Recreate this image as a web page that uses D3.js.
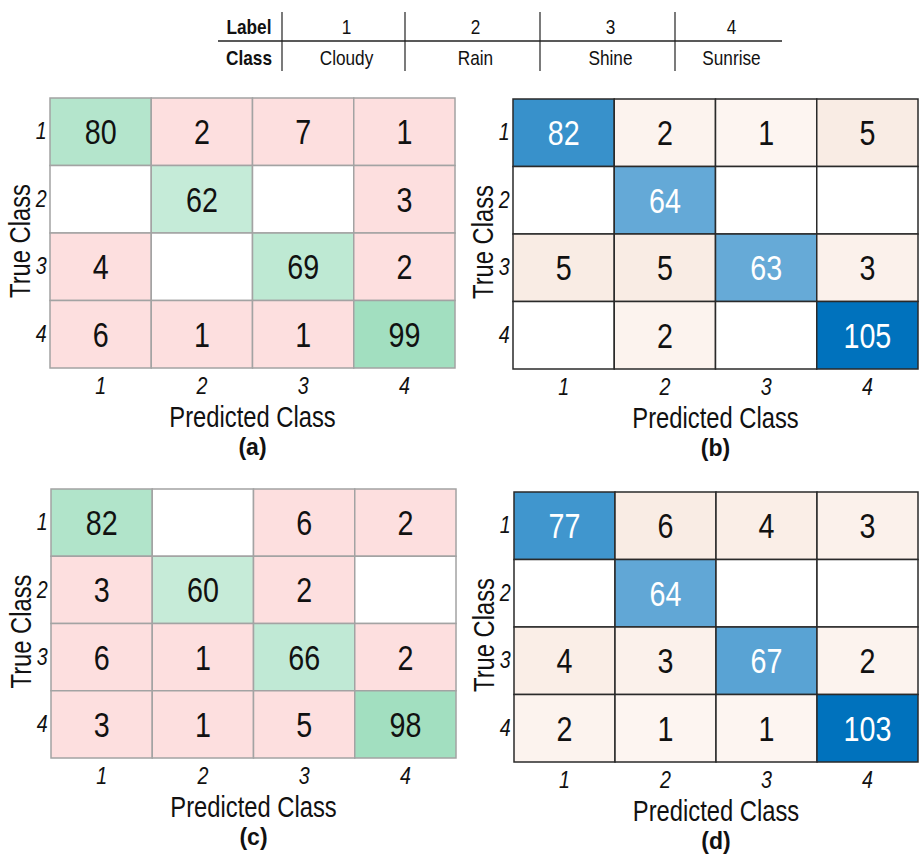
<!DOCTYPE html>
<html>
<head>
<meta charset="utf-8">
<script src="https://cdn.jsdelivr.net/npm/d3@7"></script>
<style>
  html, body { margin: 0; padding: 0; background: #fff; }
  svg { display: block; }
  text { font-family: "Liberation Sans", Arial, sans-serif; }
</style>
</head>
<body>
<svg id="chart" width="919" height="858"></svg>
<script>
// Class legend
const classLabels = ["1", "2", "3", "4"];
const classNames = ["Cloudy", "Rain", "Shine", "Sunrise"];

// Confusion matrices (rows = true class, columns = predicted class; 0 = empty cell)
const matrixA = [[80, 2, 7, 1], [0, 62, 0, 3], [4, 0, 69, 2], [6, 1, 1, 99]];
const matrixB = [[82, 2, 1, 5], [0, 64, 0, 0], [5, 5, 63, 3], [0, 2, 0, 105]];
const matrixC = [[82, 0, 6, 2], [3, 60, 2, 0], [6, 1, 66, 2], [3, 1, 5, 98]];
const matrixD = [[77, 6, 4, 3], [0, 64, 0, 0], [4, 3, 67, 2], [2, 1, 1, 103]];
const panelTags = ["(a)", "(b)", "(c)", "(d)"];

const svg = d3.select("#chart");
const NARROW = 0.82; // horizontal squeeze giving a narrow sans face

// Places a horizontally condensed text at (x, y), optionally rotated
function narrowText(parent, x, y, str, size, opts = {}) {
  const rot = opts.rotate ? ` rotate(${opts.rotate})` : "";
  return parent.append("text")
    .attr("transform", `translate(${x},${y})${rot} scale(${NARROW},1)`)
    .attr("text-anchor", opts.anchor || "middle")
    .attr("font-size", size)
    .attr("font-weight", opts.weight || "normal")
    .attr("fill", opts.fill || "#111")
    .text(str);
}

// ---- Legend table at the top ----
const table = svg.append("g");
const colEdges = [218, 282, 405, 540, 675, 782];
const colCenter = i => (colEdges[i] + colEdges[i + 1]) / 2;
table.append("line").attr("x1", colEdges[0]).attr("x2", colEdges[5])
  .attr("y1", 41).attr("y2", 41).attr("stroke", "#222").attr("stroke-width", 1.3);
colEdges.slice(1, 5).forEach(x => {
  table.append("line").attr("x1", x).attr("x2", x).attr("y1", 12).attr("y2", 71)
    .attr("stroke", "#222").attr("stroke-width", 1.2);
});
narrowText(table, 249, 34, "Label", 21, { weight: "bold" });
narrowText(table, 249, 65, "Class", 21, { weight: "bold" });
classLabels.forEach((l, i) => {
  narrowText(table, colCenter(i + 1) + 3, 34, l, 21);
  narrowText(table, colCenter(i + 1) + 3, 65, classNames[i], 21);
});

// ---- Confusion chart panels ----
const panels = [
  { m: matrixA, theme: "green", x0: 50, x1: 455, y0: 98, y1: 368, tag: panelTags[0] },
  { m: matrixB, theme: "blue", x0: 513, x1: 918, y0: 99, y1: 369, tag: panelTags[1] },
  { m: matrixC, theme: "green", x0: 51, x1: 456, y0: 489, y1: 758, tag: panelTags[2] },
  { m: matrixD, theme: "blue", x0: 514, x1: 918, y0: 492, y1: 762, tag: panelTags[3] }
];

panels.forEach(p => drawPanel(p));

function drawPanel(p) {
  const g = svg.append("g");
  const x = d3.scaleBand().domain(classLabels).range([p.x0, p.x1]);
  const y = d3.scaleBand().domain(classLabels).range([p.y0, p.y1]);
  const diagMax = d3.max(p.m.map((row, i) => row[i]));
  const allMax = d3.max(p.m.flat());

  let diagColor, offColor, gridColor, textColor;
  if (p.theme === "green") {
    diagColor = d3.scaleLinear().domain([0, diagMax]).range(["#ffffff", "#a2dfc0"]);
    offColor = () => "#fddfdf";
    gridColor = "#a3a3a3";
    textColor = () => "#111";
  } else {
    diagColor = d3.scaleLinear().domain([0, allMax]).range(["#ffffff", "#0072bd"]);
    offColor = d3.scaleLinear().domain([1, 5]).range(["#fdf5f1", "#f9ece4"]).clamp(true);
    gridColor = "#2a2a2a";
    textColor = (v, diag) => (diag && v / allMax > 0.4 ? "#ffffff" : "#111");
  }

  const cells = [];
  p.m.forEach((row, r) => row.forEach((v, c) => cells.push({ r, c, v, diag: r === c })));

  const cell = g.selectAll("g.cell").data(cells).join("g").attr("class", "cell");
  cell.append("rect")
    .attr("x", d => x(classLabels[d.c]))
    .attr("y", d => y(classLabels[d.r]))
    .attr("width", x.bandwidth())
    .attr("height", y.bandwidth())
    .attr("fill", d => d.v === 0 ? "#ffffff" : (d.diag ? diagColor(d.v) : offColor(d.v)))
    .attr("stroke", gridColor)
    .attr("stroke-width", 1.5);
  cell.filter(d => d.v !== 0).each(function (d) {
    narrowText(d3.select(this),
      x(classLabels[d.c]) + x.bandwidth() / 2,
      y(classLabels[d.r]) + y.bandwidth() / 2 + 12.5,
      d.v, 35, { fill: textColor(d.v, d.diag) });
  });

  // Axes with italic tick labels
  const xAxis = g.append("g").attr("transform", `translate(0,${p.y1})`)
    .call(d3.axisBottom(x).tickSize(0).tickPadding(9));
  const yAxis = g.append("g").attr("transform", `translate(${p.x0},0)`)
    .call(d3.axisLeft(y).tickSize(0).tickPadding(4));
  [xAxis, yAxis].forEach(ax => {
    ax.select(".domain").remove();
    ax.attr("font-family", null).attr("font-size", null);
    ax.selectAll("text").attr("font-size", 24).attr("font-style", "italic")
      .attr("transform", `scale(${NARROW},1)`).attr("fill", "#111");
  });

  const cx = (p.x0 + p.x1) / 2;
  narrowText(g, cx, p.y1 + 59, "Predicted Class", 29);
  narrowText(g, p.x0 - 20, (p.y0 + p.y1) / 2 + 8, "True Class", 29, { rotate: -90 });
  g.append("text").attr("x", cx).attr("y", p.y1 + 87).attr("text-anchor", "middle")
    .attr("font-size", 23).attr("font-weight", "bold").attr("fill", "#111").text(p.tag);
}
</script>
</body>
</html>
